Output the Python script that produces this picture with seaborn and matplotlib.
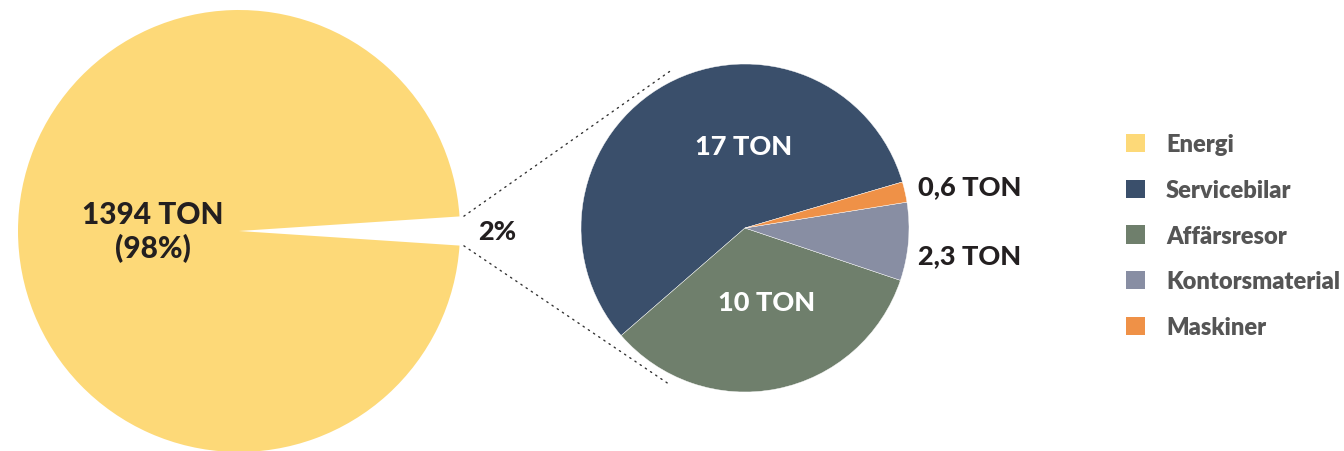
import matplotlib
matplotlib.use("Agg")
import matplotlib.pyplot as plt
from matplotlib.patches import ConnectionPatch, Patch
import numpy as np
import seaborn as sns

# Data
main_labels = ["Energi", "Övrigt"]
energi_ton = 1394
detail_labels = ["Servicebilar", "Affärsresor", "Kontorsmaterial", "Maskiner"]
detail_ton = [17, 10, 2.3, 0.6]
detail_text = ["17 TON", "10 TON", "2,3 TON", "0,6 TON"]
main_text = "1394 TON\n(98%)"
rest_text = "2%"
legend_labels = ["Energi", "Servicebilar", "Affärsresor", "Kontorsmaterial", "Maskiner"]

sns.set_theme(style="white")
plt.rcParams["font.family"] = ["Lato", "DejaVu Sans"]

palette = sns.color_palette(["#FDD978", "#3A4F6B", "#6F7F6C", "#888EA3", "#EF9147"])
dark = "#231F20"
heavy = "black"

W, H = 1344, 452
fig = plt.figure(figsize=(W / 100, H / 100), dpi=100)
fig.patch.set_facecolor("white")


def px_axes(left, top, w, h):
    return fig.add_axes([left / W, (H - top - h) / H, w / W, h / H])


# Overview pie: Energi against the remaining share
rest_ton = sum(detail_ton)
main_vals = [energi_ton, rest_ton]
gap = rest_ton / (energi_ton + rest_ton) * 360.0

ax1 = px_axes(18, 11, 442, 442)
ax1.pie(main_vals, colors=[palette[0], "none"], startangle=gap / 2,
        counterclock=True, radius=1.0, wedgeprops=dict(linewidth=0))
ax1.set_xlim(-1, 1)
ax1.set_ylim(-1, 1)
ax1.set_aspect("equal")
ax1.axis("off")
ax1.text(-0.39, 0.0, main_text, ha="center", va="center", fontsize=21.5,
         fontweight=heavy, color=dark, linespacing=1.22)
ax1.text(1.167, 0.0, rest_text, ha="center", va="center", fontsize=19.5,
         fontweight=heavy, color=dark, clip_on=False)

# Breakdown pie of the remaining share
ax2 = px_axes(581, 65, 328, 328)
wedges, _ = ax2.pie(detail_ton, colors=palette[1:], startangle=16.3,
                    counterclock=True, radius=1.0,
                    wedgeprops=dict(linewidth=0.3, edgecolor="white"))
ax2.set_xlim(-1, 1)
ax2.set_ylim(-1, 1)
ax2.set_aspect("equal")
ax2.axis("off")

label_pos = {
    "17 TON": (-0.01, 0.50, "center", "white"),
    "10 TON": (0.13, -0.45, "center", "white"),
    "0,6 TON": (1.055, 0.256, "left", dark),
    "2,3 TON": (1.055, -0.165, "left", dark),
}
for txt in detail_text:
    x, y, ha, col = label_pos[txt]
    ax2.text(x, y, txt, ha=ha, va="center", fontsize=19.5, fontweight=heavy,
             color=col, clip_on=False)

# Dotted connectors from the gap in the overview pie to the breakdown pie
for sign in (1, -1):
    a = np.deg2rad(sign * gap / 2)
    b = np.deg2rad(180 - sign * 64.5)
    con = ConnectionPatch(xyA=(1.02 * np.cos(a), 1.02 * np.sin(a)), coordsA=ax1.transData,
                          xyB=(1.06 * np.cos(b), 1.06 * np.sin(b)), coordsB=ax2.transData,
                          color="#333333", linewidth=1.0, linestyle=(0, (1, 3.5)))
    fig.add_artist(con)

# Legend
handles = [Patch(facecolor=c, edgecolor="none") for c in palette]
leg = fig.legend(handles, legend_labels, loc="upper left",
                 bbox_to_anchor=(1126 / W, 1 - 134.5 / H), frameon=False,
                 fontsize=17, handlelength=0.8, handleheight=0.8,
                 handletextpad=0.9, labelspacing=1.0, borderpad=0,
                 borderaxespad=0)
for t in leg.get_texts():
    t.set_color("#555555")
    t.set_fontweight("heavy")

fig.savefig("out.png", dpi=100, facecolor="white")
